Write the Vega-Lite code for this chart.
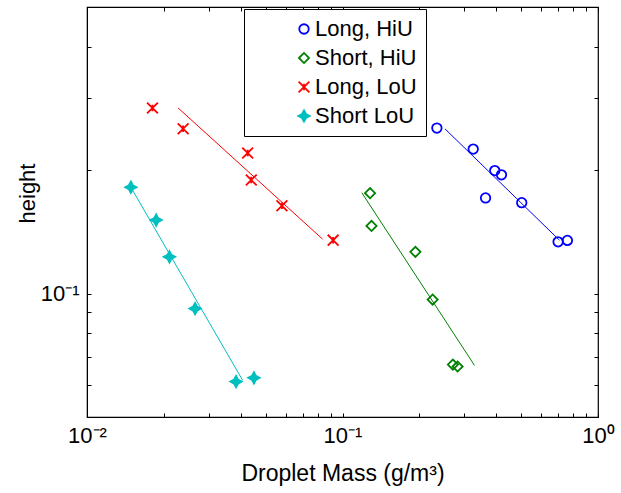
{
  "$schema": "https://vega.github.io/schema/vega-lite/v6.json",
  "autosize": "none",
  "width": 511,
  "height": 410,
  "padding": {"left": 87, "top": 7, "right": 23, "bottom": 76},
  "background": "white",
  "config": {
    "font": "Liberation Sans",
    "view": {"stroke": "black", "strokeWidth": 1.2},
    "axis": {"grid": false, "domainColor": "black", "tickColor": "black", "labelColor": "black", "titleColor": "black", "labelFont": "Liberation Sans", "titleFont": "Liberation Sans", "labelFontSize": 22, "titleFontSize": 22, "titleFontWeight": "normal"},
    "legend": {"labelFont": "Liberation Sans", "labelFontSize": 22, "labelColor": "black"}
  },
  "datasets": {
    "pts": [
      {"series": "Long, HiU", "mass": 0.2341, "height": 0.2533},
      {"series": "Long, HiU", "mass": 0.3248, "height": 0.2251},
      {"series": "Long, HiU", "mass": 0.3945, "height": 0.1995},
      {"series": "Long, HiU", "mass": 0.4190, "height": 0.1948},
      {"series": "Long, HiU", "mass": 0.3630, "height": 0.1711},
      {"series": "Long, HiU", "mass": 0.5029, "height": 0.1666},
      {"series": "Long, HiU", "mass": 0.6979, "height": 0.1337},
      {"series": "Long, HiU", "mass": 0.7589, "height": 0.1348},
      {"series": "Short, HiU", "mass": 0.1282, "height": 0.1757},
      {"series": "Short, HiU", "mass": 0.1299, "height": 0.1462},
      {"series": "Short, HiU", "mass": 0.1929, "height": 0.1264},
      {"series": "Short, HiU", "mass": 0.2253, "height": 0.0967},
      {"series": "Short, HiU", "mass": 0.2704, "height": 0.0671},
      {"series": "Short, HiU", "mass": 0.2821, "height": 0.0664},
      {"series": "Long, LoU", "mass": 0.01804, "height": 0.2836},
      {"series": "Long, LoU", "mass": 0.02378, "height": 0.2523},
      {"series": "Long, LoU", "mass": 0.04255, "height": 0.2202},
      {"series": "Long, LoU", "mass": 0.04395, "height": 0.1893},
      {"series": "Long, LoU", "mass": 0.05794, "height": 0.1637},
      {"series": "Long, LoU", "mass": 0.0919, "height": 0.1350},
      {"series": "Short LoU", "mass": 0.01485, "height": 0.1817},
      {"series": "Short LoU", "mass": 0.01865, "height": 0.1511},
      {"series": "Short LoU", "mass": 0.02102, "height": 0.1229},
      {"series": "Short LoU", "mass": 0.02649, "height": 0.0919},
      {"series": "Short LoU", "mass": 0.03831, "height": 0.0610},
      {"series": "Short LoU", "mass": 0.04502, "height": 0.0623}
    ],
    "fits": [
      {"series": "Long, HiU", "mass": 0.2517, "height": 0.2523},
      {"series": "Long, HiU", "mass": 0.7061, "height": 0.1350},
      {"series": "Short, HiU", "mass": 0.1190, "height": 0.1762},
      {"series": "Short, HiU", "mass": 0.3286, "height": 0.0668},
      {"series": "Long, LoU", "mass": 0.02273, "height": 0.2836},
      {"series": "Long, LoU", "mass": 0.08354, "height": 0.1358},
      {"series": "Short LoU", "mass": 0.01485, "height": 0.1817},
      {"series": "Short LoU", "mass": 0.04069, "height": 0.0614}
    ]
  },
  "resolve": {"axis": {"x": "independent", "y": "independent"}},
  "layer": [
    {
      "data": {"name": "fits"},
      "mark": {"type": "line", "strokeWidth": 1},
      "encoding": {
        "x": {"field": "mass", "type": "quantitative", "scale": {"type": "log", "domain": [0.01, 1], "nice": false},
          "axis": {"orient": "top", "values": [0.01,0.02,0.03,0.04,0.05,0.06,0.07,0.08,0.09,0.1,0.2,0.3,0.4,0.5,0.6,0.7,0.8,0.9,1], "labels": false, "title": null, "tickSize": -4, "domain": false}},
        "y": {"field": "height", "type": "quantitative", "scale": {"type": "log", "domain": [0.05, 0.5], "nice": false},
          "axis": {"orient": "right", "values": [0.05,0.06,0.07,0.08,0.09,0.1,0.2,0.3,0.4,0.5], "labels": false, "title": null, "tickSize": -4, "domain": false}},
        "detail": {"field": "series"},
        "stroke": {"field": "series", "type": "nominal", "legend": null,
          "scale": {"domain": ["Short LoU", "Long, LoU", "Short, HiU", "Long, HiU"], "range": ["#00bfbf", "#ff0000", "#008000", "#0000ff"]}}
      }
    },
    {
      "data": {"name": "pts"},
      "mark": {"type": "point", "strokeWidth": 1.8, "opacity": 1},
      "encoding": {
        "x": {"field": "mass", "type": "quantitative", "scale": {"type": "log", "domain": [0.01, 1], "nice": false},
          "axis": {"orient": "bottom", "values": [0.01,0.02,0.03,0.04,0.05,0.06,0.07,0.08,0.09,0.1,0.2,0.3,0.4,0.5,0.6,0.7,0.8,0.9,1], "labelExpr": "datum.value == 0.01 ? '10⁻²' : datum.value == 0.1 ? '10⁻¹' : datum.value == 1 ? '10⁰' : ''", "tickSize": -4, "labelPadding": 12, "labelFlush": false, "labelOverlap": false, "title": "Droplet Mass (g/m³)", "titleFontSize": 23, "titlePadding": 16}},
        "y": {"field": "height", "type": "quantitative", "scale": {"type": "log", "domain": [0.05, 0.5], "nice": false},
          "axis": {"orient": "left", "values": [0.05,0.06,0.07,0.08,0.09,0.1,0.2,0.3,0.4,0.5], "labelExpr": "datum.value == 0.1 ? '10⁻¹' : ''", "tickSize": -4, "labelPadding": 12, "labelFlush": false, "labelOverlap": false, "title": "height", "titlePadding": 1, "titleY": 186}},
        "color": {"field": "series", "type": "nominal",
          "scale": {"domain": ["Long, HiU", "Short, HiU", "Long, LoU", "Short LoU"], "range": ["#0000ff", "#008000", "#ff0000", "#00bfbf"]},
          "legend": {"title": null, "orient": "none", "legendX": 157, "legendY": 2, "direction": "vertical", "fillColor": "white", "strokeColor": "black", "padding": 9, "symbolOffset": 40, "labelOffset": 0, "rowPadding": 7, "symbolStrokeWidth": 1.8}},
        "fill": {"field": "series", "type": "nominal",
          "scale": {"domain": ["Long, HiU", "Short, HiU", "Long, LoU", "Short LoU"], "range": ["transparent", "transparent", "transparent", "#00bfbf"]}},
        "shape": {"field": "series", "type": "nominal",
          "scale": {"domain": ["Long, HiU", "Short, HiU", "Long, LoU", "Short LoU"], "range": ["circle", "diamond", "M-1,-1L1,1M-1,1L1,-1M0,-0.6L0,0.6", "M0,-1L0.35,-0.35L1,0L0.35,0.35L0,1L-0.35,0.35L-1,0L-0.35,-0.35Z"]}},
        "size": {"field": "series", "type": "nominal",
          "scale": {"domain": ["Long, HiU", "Short, HiU", "Long, LoU", "Short LoU"], "range": [90, 130, 16, 110]}}
      }
    }
  ]
}
